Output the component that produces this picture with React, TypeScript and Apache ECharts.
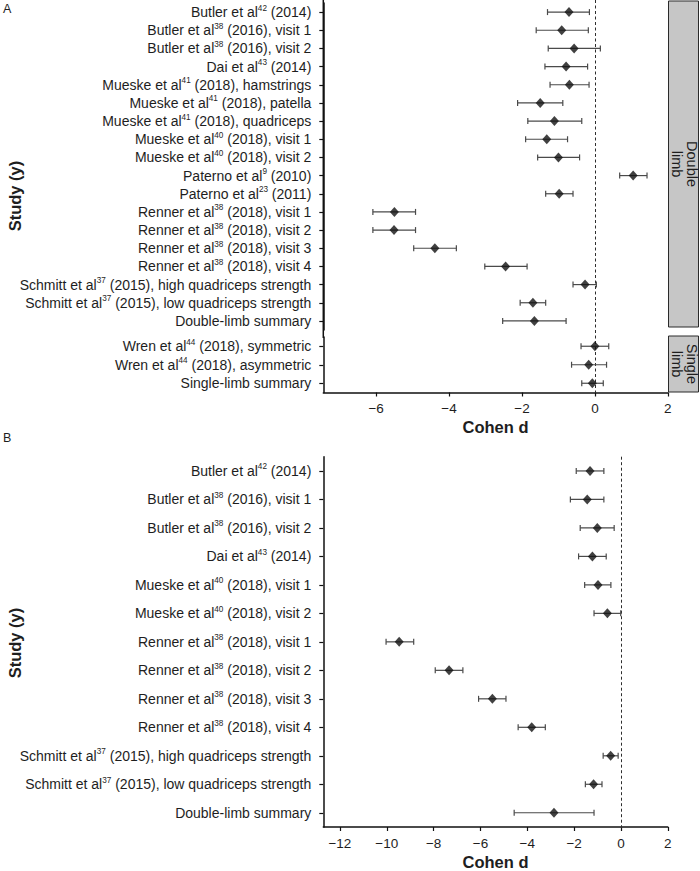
import React, { useEffect, useRef } from "react";
import * as echarts from "echarts";

// ---------- Data ----------
const studiesDouble = [
  "Butler et al^42 (2014)",
  "Butler et al^38 (2016), visit 1",
  "Butler et al^38 (2016), visit 2",
  "Dai et al^43 (2014)",
  "Mueske et al^41 (2018), hamstrings",
  "Mueske et al^41 (2018), patella",
  "Mueske et al^41 (2018), quadriceps",
  "Mueske et al^40 (2018), visit 1",
  "Mueske et al^40 (2018), visit 2",
  "Paterno et al^9 (2010)",
  "Paterno et al^23 (2011)",
  "Renner et al^38 (2018), visit 1",
  "Renner et al^38 (2018), visit 2",
  "Renner et al^38 (2018), visit 3",
  "Renner et al^38 (2018), visit 4",
  "Schmitt et al^37 (2015), high quadriceps strength",
  "Schmitt et al^37 (2015), low quadriceps strength",
  "Double-limb summary",
];
const dDouble = [-0.71, -0.91, -0.57, -0.79, -0.70, -1.50, -1.11, -1.32, -1.00, 1.05, -0.98, -5.50, -5.51, -4.39, -2.45, -0.27, -1.70, -1.66];
const loDouble = [-1.30, -1.61, -1.28, -1.37, -1.23, -2.12, -1.84, -1.90, -1.57, 0.68, -1.35, -6.09, -6.09, -4.97, -3.02, -0.60, -2.05, -2.53];
const hiDouble = [-0.15, -0.18, 0.15, -0.20, -0.16, -0.88, -0.36, -0.75, -0.42, 1.43, -0.60, -4.92, -4.92, -3.80, -1.86, 0.04, -1.35, -0.79];

const studiesSingle = [
  "Wren et al^44 (2018), symmetric",
  "Wren et al^44 (2018), asymmetric",
  "Single-limb summary",
];
const dSingle = [0.0, -0.17, -0.07];
const loSingle = [-0.38, -0.64, -0.36];
const hiSingle = [0.38, 0.32, 0.23];

const studiesB = [
  "Butler et al^42 (2014)",
  "Butler et al^38 (2016), visit 1",
  "Butler et al^38 (2016), visit 2",
  "Dai et al^43 (2014)",
  "Mueske et al^40 (2018), visit 1",
  "Mueske et al^40 (2018), visit 2",
  "Renner et al^38 (2018), visit 1",
  "Renner et al^38 (2018), visit 2",
  "Renner et al^38 (2018), visit 3",
  "Renner et al^38 (2018), visit 4",
  "Schmitt et al^37 (2015), high quadriceps strength",
  "Schmitt et al^37 (2015), low quadriceps strength",
  "Double-limb summary",
];
const dB = [-1.32, -1.44, -1.01, -1.22, -0.98, -0.58, -9.47, -7.34, -5.49, -3.81, -0.44, -1.17, -2.86];
const loB = [-1.91, -2.16, -1.74, -1.81, -1.55, -1.15, -10.03, -7.93, -6.08, -4.39, -0.76, -1.52, -4.56];
const hiB = [-0.73, -0.73, -0.29, -0.63, -0.43, -0.01, -8.85, -6.75, -4.91, -3.23, -0.12, -0.81, -1.15];

const ticksA = [-6, -4, -2, 0, 2];
const ticksB = [-12, -10, -8, -6, -4, -2, 0, 2];
const rangeA = [-7.45, 2];
const rangeB = [-12.71, 2];
const refValue = 0;

const stripLabels = ["Double\nlimb", "Single\nlimb"];
const xTitle = "Cohen d";
const yTitle = "Study (y)";

// ---------- Helpers ----------
const FONT = "'Liberation Sans', Arial, Helvetica, sans-serif";
const TXT = "#1e1e1e";

function richLabel(s: string) {
  const m = s.match(/^(.*?)\^(\d+)(.*)$/);
  if (!m) return `{n|${s}}`;
  return `{n|${m[1]}}{s|${m[2]}}{n|${m[3]}}`;
}
const fmtTick = (v: number) => (v < 0 ? "\u2212" + Math.abs(v) : String(v));

const L = 323.3;
const RIGHT_EDGE = 667.8;
const R = 700 - RIGHT_EDGE;

function yAxisCfg(gridIndex: number, data: string[]) {
  return {
    type: "category",
    gridIndex,
    data,
    inverse: true,
    boundaryGap: true,
    axisLine: { show: true, onZero: false, lineStyle: { color: "#111", width: 1.5 } },
    axisTick: { show: true, alignWithLabel: true, length: 4, lineStyle: { color: "#111", width: 1.2 } },
    axisLabel: {
      margin: 12,
      formatter: (v: string) => richLabel(v),
      rich: {
        n: { fontSize: 14, fontFamily: FONT, color: TXT, lineHeight: 16 },
        s: { fontSize: 8.2, fontFamily: FONT, color: TXT, verticalAlign: "top", lineHeight: 8 },
      },
    },
    splitLine: { show: false },
  };
}

function xAxisCfg(gridIndex: number, range: number[], ticks: number[] | null) {
  if (!ticks) {
    return {
      type: "value",
      gridIndex,
      min: range[0],
      max: range[1],
      axisLine: { show: false, onZero: false },
      axisTick: { show: false },
      axisLabel: { show: false },
      splitLine: { show: false },
    };
  }
  return {
    type: "value",
    gridIndex,
    min: range[0],
    max: range[1],
    name: xTitle,
    nameLocation: "middle",
    nameGap: 26,
    nameTextStyle: { fontSize: 16.5, fontWeight: "bold", fontFamily: FONT, color: TXT },
    axisLine: { show: true, onZero: false, lineStyle: { color: "#111", width: 1.5 } },
    axisTick: { show: true, length: 4, customValues: ticks, lineStyle: { color: "#111", width: 1.2 } },
    axisLabel: {
      show: true,
      customValues: ticks,
      margin: 9,
      fontSize: 13.5,
      fontFamily: FONT,
      color: TXT,
      formatter: (v: number) => fmtTick(v),
    },
    splitLine: { show: false },
  };
}

function seriesFor(axisIndex: number, d: number[], lo: number[], hi: number[]) {
  return [
    {
      type: "custom",
      xAxisIndex: axisIndex,
      yAxisIndex: axisIndex,
      data: d.map((_, i) => [i, lo[i], hi[i]]),
      encode: { x: [1, 2], y: 0 },
      renderItem: (params: any, api: any) => {
        const idx = api.value(0);
        const a = api.coord([api.value(1), idx]);
        const b = api.coord([api.value(2), idx]);
        const cap = 3;
        const st = { stroke: "#4a4a4a", lineWidth: 1.2 };
        return {
          type: "group",
          children: [
            { type: "line", shape: { x1: a[0], y1: a[1], x2: b[0], y2: b[1] }, style: st },
            { type: "line", shape: { x1: a[0], y1: a[1] - cap, x2: a[0], y2: a[1] + cap }, style: st },
            { type: "line", shape: { x1: b[0], y1: b[1] - cap, x2: b[0], y2: b[1] + cap }, style: st },
          ],
        };
      },
      z: 2,
    },
    {
      type: "scatter",
      xAxisIndex: axisIndex,
      yAxisIndex: axisIndex,
      symbol: "diamond",
      symbolSize: [9, 10],
      itemStyle: { color: "#111" },
      data: d.map((v, i) => [v, i]),
      z: 3,
    },
  ];
}

export default function App() {
  const ref = useRef<HTMLDivElement>(null);
  useEffect(() => {
    if (!ref.current) return;
    const chart = echarts.init(ref.current, null, { renderer: "svg" });

    const g0 = { top: 3, height: 327 };
    const g1 = { top: 337, height: 55.5 };
    const g2 = { top: 456.7, height: 373.3 };

    const baseGraphic: any[] = [
      // continuous y-axis line across the facet gap
      { type: "line", shape: { x1: L, y1: 0, x2: L, y2: g1.top + 1 }, style: { stroke: "#111", lineWidth: 1.5 }, z: 10 },
      // facet strips
      { type: "rect", shape: { x: 668.5, y: 1, width: 30, height: 326 }, style: { fill: "#c6c6c6", stroke: "#2a2a2a", lineWidth: 1 } },
      { type: "rect", shape: { x: 668.5, y: 336, width: 30, height: 56 }, style: { fill: "#c6c6c6", stroke: "#2a2a2a", lineWidth: 1 } },
      {
        type: "text", x: 684, y: 164, rotation: -Math.PI / 2,
        style: { text: stripLabels[0], fontSize: 14.5, fontFamily: FONT, fill: TXT, align: "center", verticalAlign: "middle", lineHeight: 15 },
      },
      {
        type: "text", x: 684, y: 364, rotation: -Math.PI / 2,
        style: { text: stripLabels[1], fontSize: 14.5, fontFamily: FONT, fill: TXT, align: "center", verticalAlign: "middle", lineHeight: 15 },
      },
      // y titles
      {
        type: "text", x: 15, y: 196, rotation: Math.PI / 2,
        style: { text: yTitle, fontSize: 16.5, fontWeight: "bold", fontFamily: FONT, fill: TXT, align: "center", verticalAlign: "middle" },
      },
      {
        type: "text", x: 15, y: 643, rotation: Math.PI / 2,
        style: { text: yTitle, fontSize: 16.5, fontWeight: "bold", fontFamily: FONT, fill: TXT, align: "center", verticalAlign: "middle" },
      },
      // panel letters
      { type: "text", x: 3, y: 2, style: { text: "A", fontSize: 12.5, fontFamily: FONT, fill: TXT } },
      { type: "text", x: 3, y: 431, style: { text: "B", fontSize: 12.5, fontFamily: FONT, fill: TXT } },
    ];

    const option: any = {
      animation: false,
      backgroundColor: "#ffffff",
      textStyle: { fontFamily: FONT },
      grid: [
        { left: L, right: R, top: g0.top, height: g0.height, containLabel: false },
        { left: L, right: R, top: g1.top, height: g1.height, containLabel: false },
        { left: L, right: R, top: g2.top, height: g2.height, containLabel: false },
      ],
      xAxis: [
        xAxisCfg(0, rangeA, null),
        xAxisCfg(1, rangeA, ticksA),
        xAxisCfg(2, rangeB, ticksB),
      ],
      yAxis: [
        yAxisCfg(0, studiesDouble),
        yAxisCfg(1, studiesSingle),
        yAxisCfg(2, studiesB),
      ],
      series: [
        ...seriesFor(0, dDouble, loDouble, hiDouble),
        ...seriesFor(1, dSingle, loSingle, hiSingle),
        ...seriesFor(2, dB, loB, hiB),
      ],
      graphic: baseGraphic,
    };
    chart.setOption(option);

    // dashed reference lines at d = 0, placed through the axes' own scales
    const xA = Math.round(chart.convertToPixel({ xAxisIndex: 1 }, refValue) as number) + 0.5;
    const xB = Math.round(chart.convertToPixel({ xAxisIndex: 2 }, refValue) as number) + 0.5;
    const dash = { stroke: "#2e2e2e", lineWidth: 1, lineDash: [3, 2.5] };
    chart.setOption({
      graphic: [
        ...baseGraphic,
        { type: "line", shape: { x1: xA, y1: 0, x2: xA, y2: g1.top + g1.height }, style: dash, z: 1 },
        { type: "line", shape: { x1: xB, y1: g2.top, x2: xB, y2: g2.top + g2.height }, style: dash, z: 1 },
      ],
    }, { replaceMerge: ["graphic"] });

    return () => chart.dispose();
  }, []);

  return (
    <div
      ref={ref}
      style={{ position: "absolute", left: 0, top: 0, width: 700, height: 871, background: "#fff" }}
    />
  );
}
